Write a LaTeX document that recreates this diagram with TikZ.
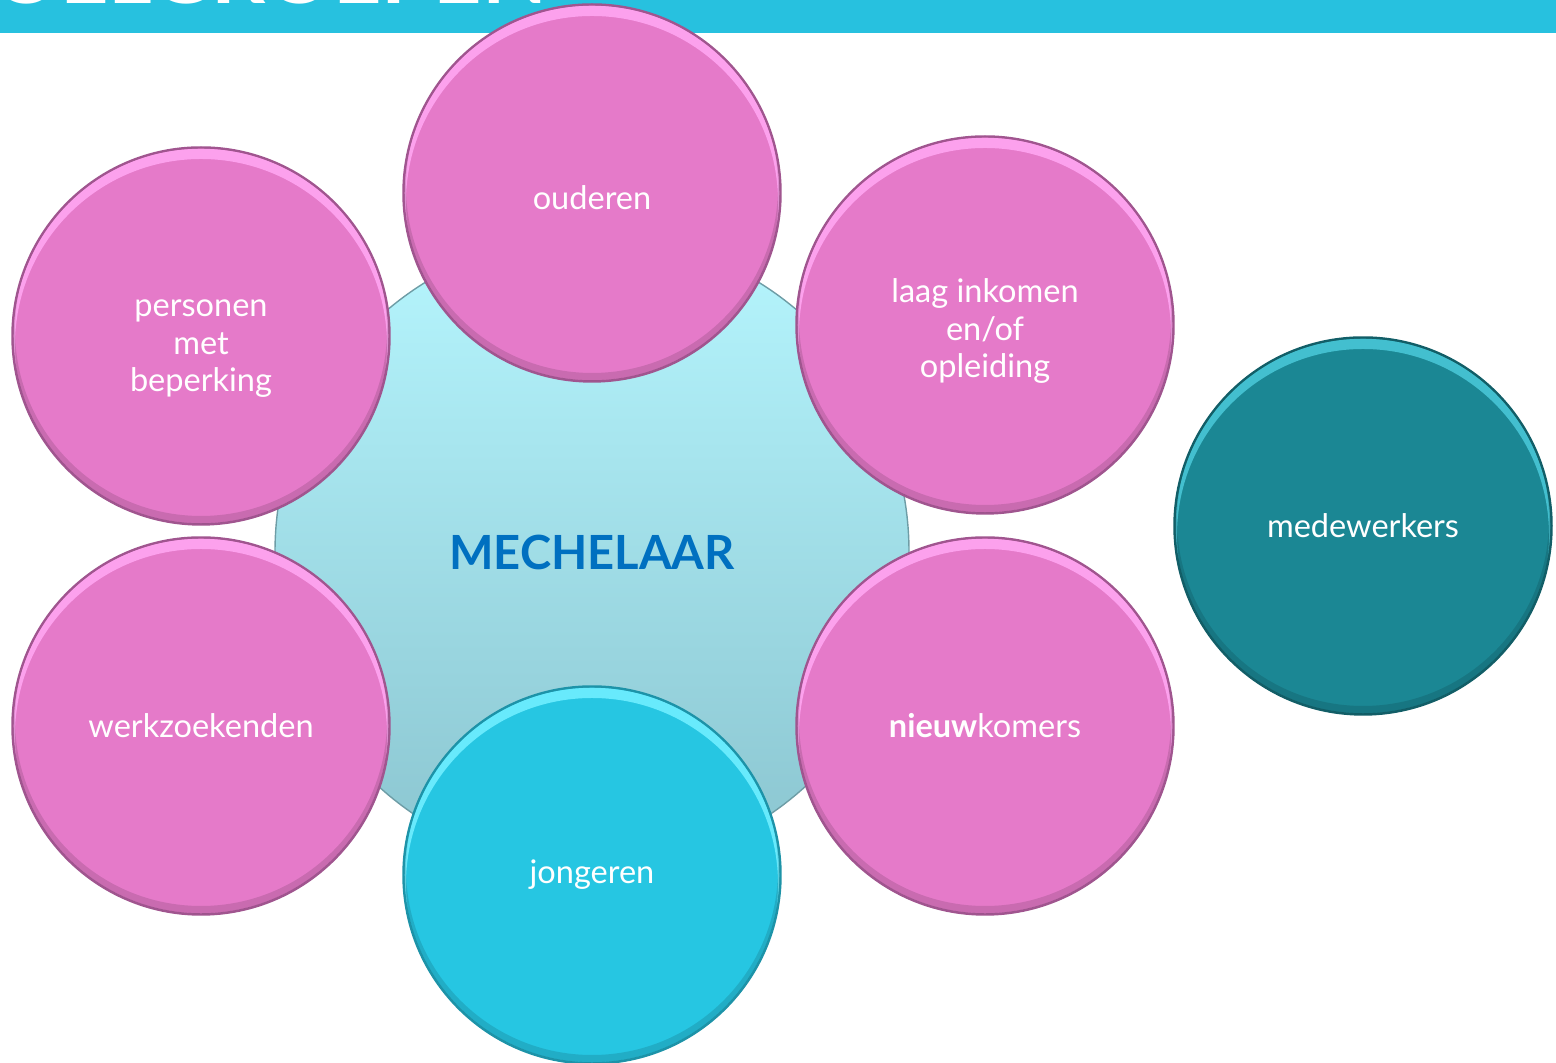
\documentclass[tikz,border=0pt]{standalone}
\usepackage{fontspec}
\setmainfont{Lato}
\usepackage{tikz}
\usepackage{color}

\definecolor{balk}{HTML}{27C1DF}
\definecolor{roze}{HTML}{E57AC9}
\definecolor{rozerand}{HTML}{A0558F}
\definecolor{rozelicht}{HTML}{FFA6F2}
\definecolor{cyaan}{HTML}{26C6E2}
\definecolor{cyaanrand}{HTML}{1D93A8}
\definecolor{cyaanlicht}{HTML}{70EEFF}
\definecolor{petrol}{HTML}{1B8794}
\definecolor{petrolrand}{HTML}{125E67}
\definecolor{petrollicht}{HTML}{48C6D6}
\definecolor{kernboven}{HTML}{B6F6FE}
\definecolor{kernonder}{HTML}{8AC4CF}
\definecolor{mechblauw}{HTML}{0070C0}

\tikzset{
  bol/.style={circle, minimum size=3.77cm, inner sep=0pt, align=center, text=white,
    font=\fontsize{9.25}{10.8}\selectfont, line width=0.7pt},
  rozebol/.style={bol, fill=roze, draw=rozerand},
  cyaanbol/.style={bol, fill=cyaan, draw=cyaanrand},
  petrolbol/.style={bol, fill=petrol, draw=petrolrand},
  kernbol/.style={circle, minimum size=6.34cm, inner sep=0pt, top color=kernboven,
    bottom color=kernonder, draw=kernonder!80!black, line width=0.4pt, text=mechblauw,
    font=\fontsize{13.4}{14}\selectfont\bfseries}
}

\begin{document}
\begin{tikzpicture}
\useasboundingbox (0,0) rectangle (15.56,10.63);
\clip (0,0) rectangle (15.56,10.63);

% titelbalk
\fill[balk] (0,10.30) rectangle (15.56,10.63);
\node[anchor=base east, inner sep=0pt, text=white, font=\fontsize{24}{24}\selectfont\bfseries] (titel) at (5.48,10.59) {DOELGROEPEN};

% midden
\node[kernbol] (kern) at (5.92,5.11) {MECHELAAR};

% doelgroepen rond het midden
\node[rozebol] (oud) at (5.92,8.70) {\rule{0pt}{0.33cm}ouderen};
\node[rozebol] (pers) at (2.01,7.27) {\rule{0pt}{0.42cm}personen\\met\\beperking};
\node[rozebol] (laag) at (9.85,7.38) {\rule{0pt}{0.36cm}laag inkomen\\en/of\\opleiding};
\node[rozebol] (werk) at (2.01,3.37) {werkzoekenden};
\node[rozebol] (nieuw) at (9.85,3.37) {\textbf{nieuw}komers};
\node[cyaanbol] (jong) at (5.92,1.88) {jongeren};
\node[petrolbol] (mede) at (13.63,5.37) {medewerkers};

% lichte rand bovenaan, donkere rand onderaan
\foreach \n/\c in {oud/rozelicht, pers/rozelicht, laag/rozelicht, werk/rozelicht, nieuw/rozelicht, jong/cyaanlicht, mede/petrollicht} {
  \begin{scope}
    \clip (\n.center) circle (1.872cm);
    \fill[\c, even odd rule, opacity=0.9] (\n.center) circle (1.95cm) ([yshift=-0.09cm]\n.center) circle (1.86cm);
    \fill[black, even odd rule, opacity=0.12] (\n.center) circle (1.95cm) ([yshift=0.06cm]\n.center) circle (1.86cm);
  \end{scope}
}
\end{tikzpicture}
\end{document}
